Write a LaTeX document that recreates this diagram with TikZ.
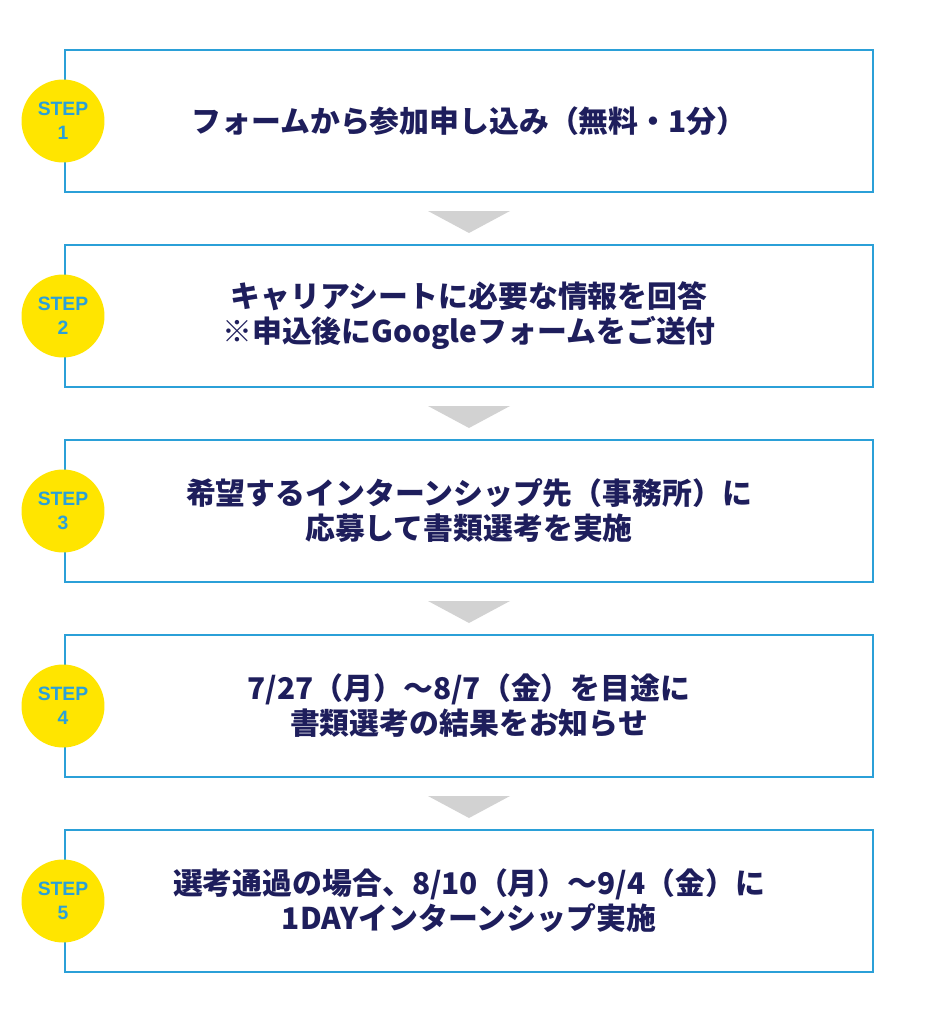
\documentclass[tikz,border=0pt]{standalone}
\usepackage{fontspec}
\setmainfont{Noto Sans CJK JP}
\newfontfamily\stepfont{Liberation Sans}
\definecolor{boxcolor}{HTML}{2BA0D8}
\definecolor{dotcolor}{HTML}{FFE500}
\definecolor{textcolor}{HTML}{1E1E5C}
\definecolor{arrowcolor}{HTML}{D2D2D2}
\usetikzlibrary{positioning}

\begin{document}
\begin{tikzpicture}[x=0.02cm,y=-0.02cm]

    \tikzset{%
        stepbox/.style={draw=boxcolor, line width=1.2pt, fill=white, minimum width=16.16cm, minimum height=2.84cm, anchor=center},
        steptext/.style={text=textcolor, font=\fontsize{17}{19.9}\selectfont\bfseries, align=center},
        stepdot/.style={circle, fill=dotcolor, minimum size=1.66cm, inner sep=0pt, text=boxcolor, font=\stepfont\fontsize{11}{13.5}\selectfont\bfseries, align=center},
    }

    \useasboundingbox (0, 0) rectangle (938, 1024);

    \foreach \i/\txt in {%
            1/{フォームから参加申し込み（無料・1分）},
            2/{キャリアシートに必要な情報を回答\\※申込後にGoogleフォームをご送付},
            3/{希望するインターンシップ先（事務所）に\\応募して書類選考を実施},
            4/{7/27（月）〜8/7（金）を目途に\\書類選考の結果をお知らせ},
            5/{選考通過の場合、8/10（月）〜9/4（金）に\\1DAYインターンシップ実施}} {%
            \node [stepbox] (box\i) at (469, {121+(\i-1)*195}) {};
            \node [steptext] (text\i) at (469, {121+(\i-1)*195}) {\txt};
            \node [stepdot] (dot\i) at (63, {121+(\i-1)*195}) {STEP\\\i};
        }

    % arrows between the steps
    \foreach \i in {1, ..., 4} {%
            \fill [arrowcolor] (428, {211+(\i-1)*195}) -- (510, {211+(\i-1)*195}) -- (469, {233+(\i-1)*195}) -- cycle;
        }

\end{tikzpicture}
\end{document}
